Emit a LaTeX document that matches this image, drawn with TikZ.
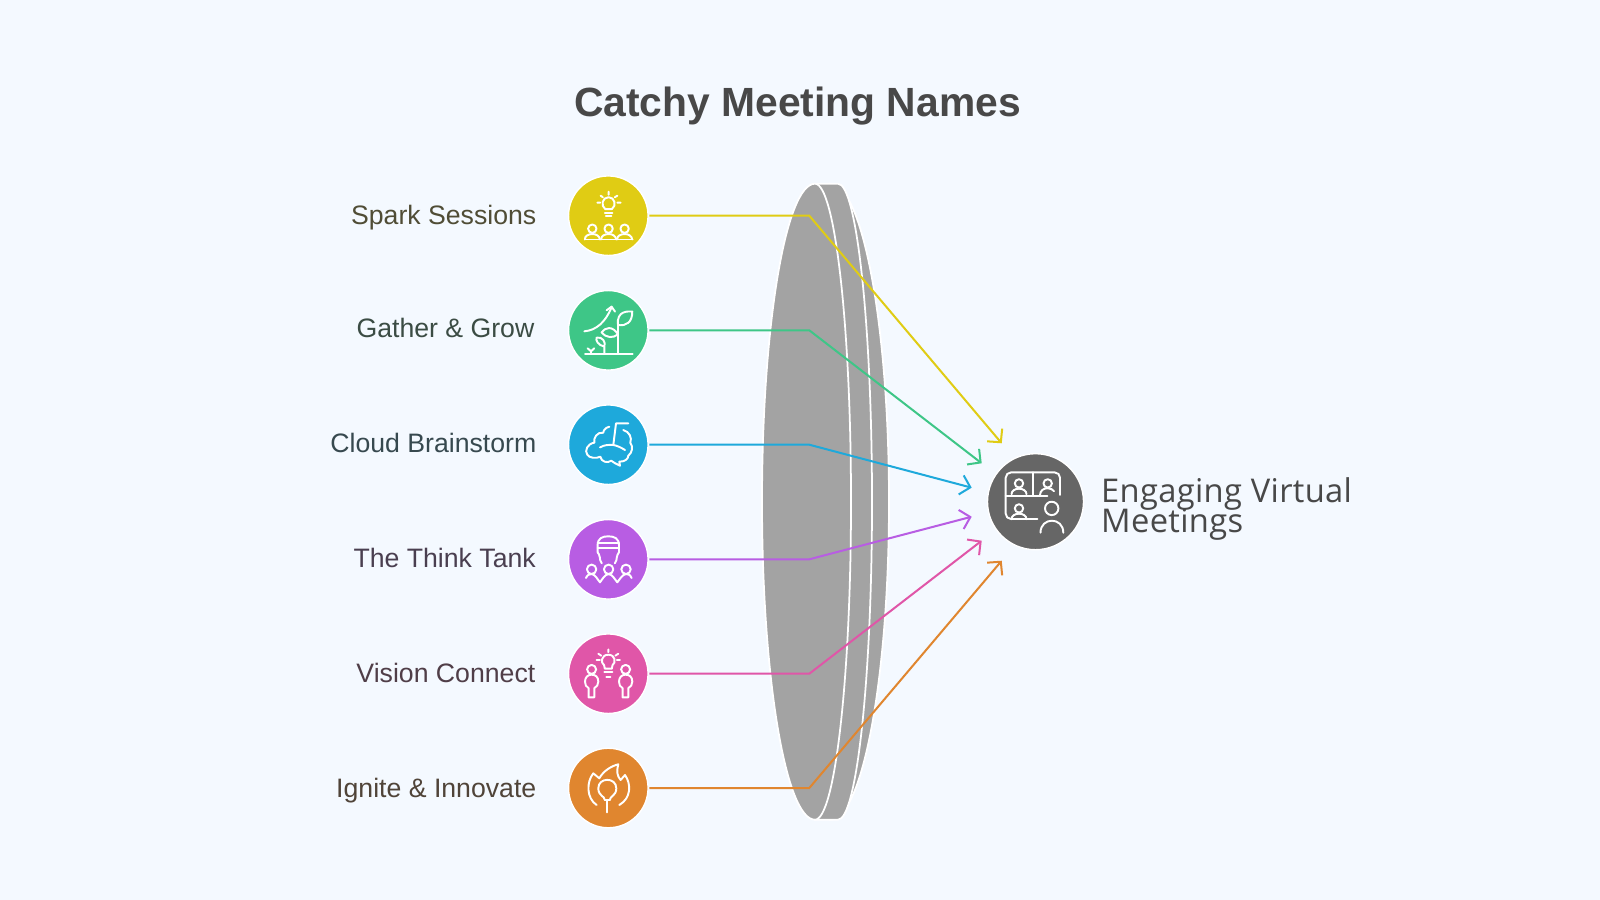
\documentclass[tikz,border=0pt]{standalone}
\usepackage{fontspec}
\setmainfont{Liberation Sans}
\newfontfamily\sidefont[LetterSpace=1]{Open Sans}
\usetikzlibrary{arrows.meta}
\definecolor{pagebg}{HTML}{F4F9FF}
\definecolor{lensgray}{HTML}{A3A3A3}
\definecolor{titlegray}{HTML}{484848}
\definecolor{targetgray}{HTML}{666666}
\definecolor{sparkcol}{HTML}{E0CC14}
\definecolor{growcol}{HTML}{3EC687}
\definecolor{cloudcol}{HTML}{1EA9DB}
\definecolor{thinkcol}{HTML}{B85DE3}
\definecolor{visioncol}{HTML}{E056A8}
\definecolor{ignitecol}{HTML}{E0862F}
\tikzset{
	iconline/.style={draw=white, line width=0.55pt, line join=round, line cap=round},
	lenspart/.style={fill=lensgray, draw=white, line width=0.5pt},
	badge/.style={circle, draw=white, line width=0.4pt, minimum size=0.795cm, inner sep=0pt, outer sep=0.4pt},
	link/.style={line width=0.57pt, line join=miter, -{Straight Barb[length=2.7pt,width=5.6pt]}},
	rowlabel/.style={anchor=base east, inner sep=0pt, font=\fontsize{7.58}{9}\selectfont},
	bust/.pic={
		\draw[iconline] (0,0) circle [radius=4.2];
		\draw[iconline] (-7.5,10.8) .. controls (-7.5,3.5) and (7.5,3.5) .. (7.5,10.8);
	},
	figure/.pic={
		\draw[iconline] (0,0) circle [radius=4.5];
		\draw[iconline] (-3,28) -- (-3,18.8) .. controls (-5.5,17.3) and (-6.6,15.3) .. (-6.6,12.3) .. controls (-6.6,7.3) and (-3.3,5.3) .. (0,5.3) .. controls (3.7,5.3) and (6.7,7.3) .. (6.7,12.3) .. controls (6.7,15.3) and (5.2,17.3) .. (2.7,18.8) -- (2.7,28) -- cycle;
	}
}
\begin{document}
\begin{tikzpicture}[x=0.01cm, y=-0.01cm]
	\fill[pagebg] (0,0) rectangle (1600,900);
	\node[anchor=base, inner sep=0pt, text=titlegray, font=\bfseries\fontsize{11.6}{14}\selectfont] (title) at (797.5,116) {Catchy Meeting Names};

	%lens
	\draw[lenspart] (830,183.7) arc[start angle=-90, end angle=90, x radius=59, y radius=318] -- cycle;
	\draw[lenspart] (815,183.7) -- (838,183.7) arc[start angle=-90, end angle=90, x radius=34, y radius=318] -- (815,819.7) -- cycle;
	\draw[lenspart] (815,183.7) arc[start angle=-90, end angle=90, x radius=36, y radius=318] arc[start angle=90, end angle=270, x radius=53, y radius=318] -- cycle;

	%rows
	\foreach \n/\yc/\tipx/\tipy/\col/\lab/\laby/\labx in {
		spark/215.7/1001.7/443.3/sparkcol/Spark Sessions/224.3/537,
		grow/330.3/981.7/463.3/growcol/Gather \& Grow/337.7/535,
		cloud/444.7/971.7/487.7/cloudcol/Cloud Brainstorm/452/537,
		think/559.3/971.7/516.7/thinkcol/The Think Tank/567/536.5,
		vision/673.7/981.7/540.7/visioncol/Vision Connect/682/536,
		ignite/788/1001.7/560.7/ignitecol/Ignite \& Innovate/797/537}{
		\node[badge, fill=\col] (\n) at (608.3,\yc) {};
		\coordinate (\n bend) at (809.3,\yc);
		\coordinate (\n tip) at (\tipx,\tipy);
		\draw[link, \col] (\n) -- (\n bend) -- (\n tip);
		\node[rowlabel, text=\col!16!black!80] (\n label) at (\labx,\laby) {\lab};
	}

	%target
	\node[badge, fill=targetgray, minimum size=0.96cm] (target) at (1035.5,501.7) {};
	\node[anchor=north west, inner sep=0pt, align=left, text=titlegray, font=\sidefont\fontsize{9.3}{9.05}\selectfont] (targetlabel) at (1100.5,476.5) {Engaging Virtual\\[-1.3pt]Meetings};

	%spark icon
	\begin{scope}[shift={(608.3,215.7)}]
		\draw[iconline] (-3,-6.5) .. controls (-8,-10) and (-6,-18.5) .. (0.3,-18.5) .. controls (6.5,-18.5) and (8.5,-10) .. (3.5,-6.5) -- cycle;
		\draw[iconline] (-3.5,-3) -- (4,-3) (-2.5,0) -- (3,0);
		\draw[iconline] (0.3,-24) -- (0.3,-21) (-7.7,-20) -- (-5.5,-18.5) (9,-20) -- (6.5,-18.5) (-11,-13) -- (-8,-13) (9,-13) -- (12.3,-13);
		\foreach \x in {-16, 0.3, 16.3}{
			\pic at (\x,13) {bust};
		}
		\draw[iconline] (-23.3,23.8) -- (24.3,23.8);
	\end{scope}

	%grow icon
	\begin{scope}[shift={(608.3,330.3)}]
		\draw[iconline] (-23.3,23.3) -- (24.3,23.3);
		\draw[iconline] (-24,1) .. controls (-12,0) and (-3,-8) .. (3.3,-23);
		\draw[iconline] (-1.7,-20) -- (3.3,-23.7) -- (6.7,-18.7);
		\draw[iconline] (9.7,23.3) -- (9.7,-5.3) .. controls (8,-20) and (20,-19) .. (24,-18.7) .. controls (24,-8) and (18,-4) .. (9.7,-5.3);
		\draw[iconline] (9.7,4) .. controls (4,-5) and (-3,-3) .. (-6.7,2) .. controls (-2,8) and (5,8) .. (9.7,4);
		\draw[iconline] (-4,23.3) -- (-4,16.3) .. controls (-10,15) and (-13,10) .. (-11.7,7.3) .. controls (-6,6) and (-2,12) .. (-4,16.3);
		\draw[iconline] (-17.3,23.3) -- (-17.3,20) (-20.7,18) -- (-17.3,21) -- (-14,18);
	\end{scope}

	%cloud icon
	\begin{scope}[shift={(608.3,444.7)}]
		\draw[iconline] (1,-18) .. controls (-4,-17) and (-5,-13) .. (-5,-12) .. controls (-11,-13) and (-15,-7) .. (-14,-2) .. controls (-21,-1) and (-24,6) .. (-21,10) .. controls (-19,13.5) and (-12,14) .. (-8,12) .. controls (-7,17) and (-1,19) .. (3,16) .. controls (5,18) and (8,19) .. (11.7,21) -- (11,17) .. controls (17,17) and (20,14) .. (20,11) .. controls (24,8) and (25,2) .. (22,-2) .. controls (24,-7) and (21,-13) .. (15,-14.7);
		\draw[iconline] (20,-21.3) -- (7.7,-21.3) -- (5,0.3);
		\draw[iconline] (-8.3,2.7) .. controls (-4,0) and (1,0) .. (5,0.3) .. controls (9,1) and (13,3) .. (16.7,5.3);
	\end{scope}

	%think icon
	\begin{scope}[shift={(608.3,559.3)}]
		\draw[iconline] (-10.7,-7) -- (-10.7,-14) .. controls (-10.7,-21) and (-6,-23) .. (0,-23) .. controls (6,-23) and (10.7,-21) .. (10.7,-14) -- (10.7,-7);
		\draw[iconline] (-10.7,-16.5) -- (10.7,-16.5) (-10.7,-11) -- (10.7,-11);
		\draw[iconline] (-10.7,-7) .. controls (-10,-5) and (-8.5,-5) .. (-8.5,-2) .. controls (-8.5,0) and (-8,2) .. (-6.5,4);
		\draw[iconline] (10.7,-7) .. controls (10,-5) and (8.5,-5) .. (8.5,-2) .. controls (8.5,0) and (8,2) .. (6.5,4);
		\foreach \x in {-16.7, 0.3, 17.7}{
			\draw[iconline] (\x,10) circle [radius=4.7];
		}
		\draw[iconline] (-22.3,18.7) .. controls (-21,15.5) and (-19,14.5) .. (-16.7,14.8) .. controls (-13,15) and (-11,20) .. (-8.3,23) .. controls (-6,20) and (-3.5,15) .. (0.3,14.8) .. controls (4,15) and (6.5,20) .. (9,23) .. controls (11.5,20) and (14,15) .. (17.7,14.8) .. controls (20,14.5) and (22,15.5) .. (23.3,18.7);
	\end{scope}

	%vision icon
	\begin{scope}[shift={(608.3,673.7)}]
		\draw[iconline] (-4.2,-8.5) .. controls (-8,-11) and (-7,-19) .. (0,-19) .. controls (7,-19) and (8,-11) .. (4.2,-8.5) -- (3.5,-5) -- (-3.5,-5) -- cycle;
		\draw[iconline] (-4,-1.3) -- (4,-1.3) (-2,3) -- (2,3);
		\draw[iconline] (0,-24.3) -- (0,-21.5) (-10,-20) -- (-7,-18) (10,-20) -- (7,-18) (-11.7,-13.7) -- (-8.5,-13.7) (8.5,-13.7) -- (11.7,-13.7);
		\pic at (-16.7,-4.3) {figure};
		\pic at (17.3,-4.3) {figure};
	\end{scope}

	%ignite icon
	\begin{scope}[shift={(608.3,788)}]
		\draw[iconline] (-11.7,17) .. controls (-22,10) and (-22,-6) .. (-15,-14.7) -- (-9,-9.7) .. controls (-5,-17) and (3,-22) .. (10,-23.7) .. controls (8,-16) and (9,-12) .. (12.3,-8) -- (16.7,-13) .. controls (23,-4) and (23,10) .. (11,17);
		\draw[iconline] (-3.5,12) .. controls (-3.5,8) and (-10,8) .. (-10,0.3) .. controls (-10,-11) and (8,-11) .. (8,0.3) .. controls (8,8) and (1.5,8) .. (1.5,12) -- cycle;
		\draw[iconline] (-1,12) -- (-1,24.3);
	\end{scope}

	%target icon
	\begin{scope}[shift={(1035.5,501.7)}]
		\draw[iconline, rounded corners=1.5] (24.5,-6.7) -- (24.5,-29.3) -- (-29.8,-29.3) -- (-29.8,17.3) -- (1.8,17.3);
		\draw[iconline] (-2.8,-29.3) -- (-2.8,-5.7) (-29.8,-5.7) -- (11.8,-5.7);
		\pic at (-16.5,-18.3) {bust};
		\pic at (-16.5,6.7) {bust};
		\draw[iconline] (12.2,-18.3) circle [radius=4.2];
		\draw[iconline] (4.5,-6.5) .. controls (4.5,-11) and (8,-13.5) .. (12.2,-13.5) .. controls (15,-13.5) and (17.5,-12) .. (18.5,-10.5);
		\draw[iconline] (16.2,6.7) circle [radius=6.7];
		\draw[iconline] (5,31) .. controls (5,15) and (27.8,15) .. (27.8,31);
	\end{scope}
\end{tikzpicture}
\end{document}
